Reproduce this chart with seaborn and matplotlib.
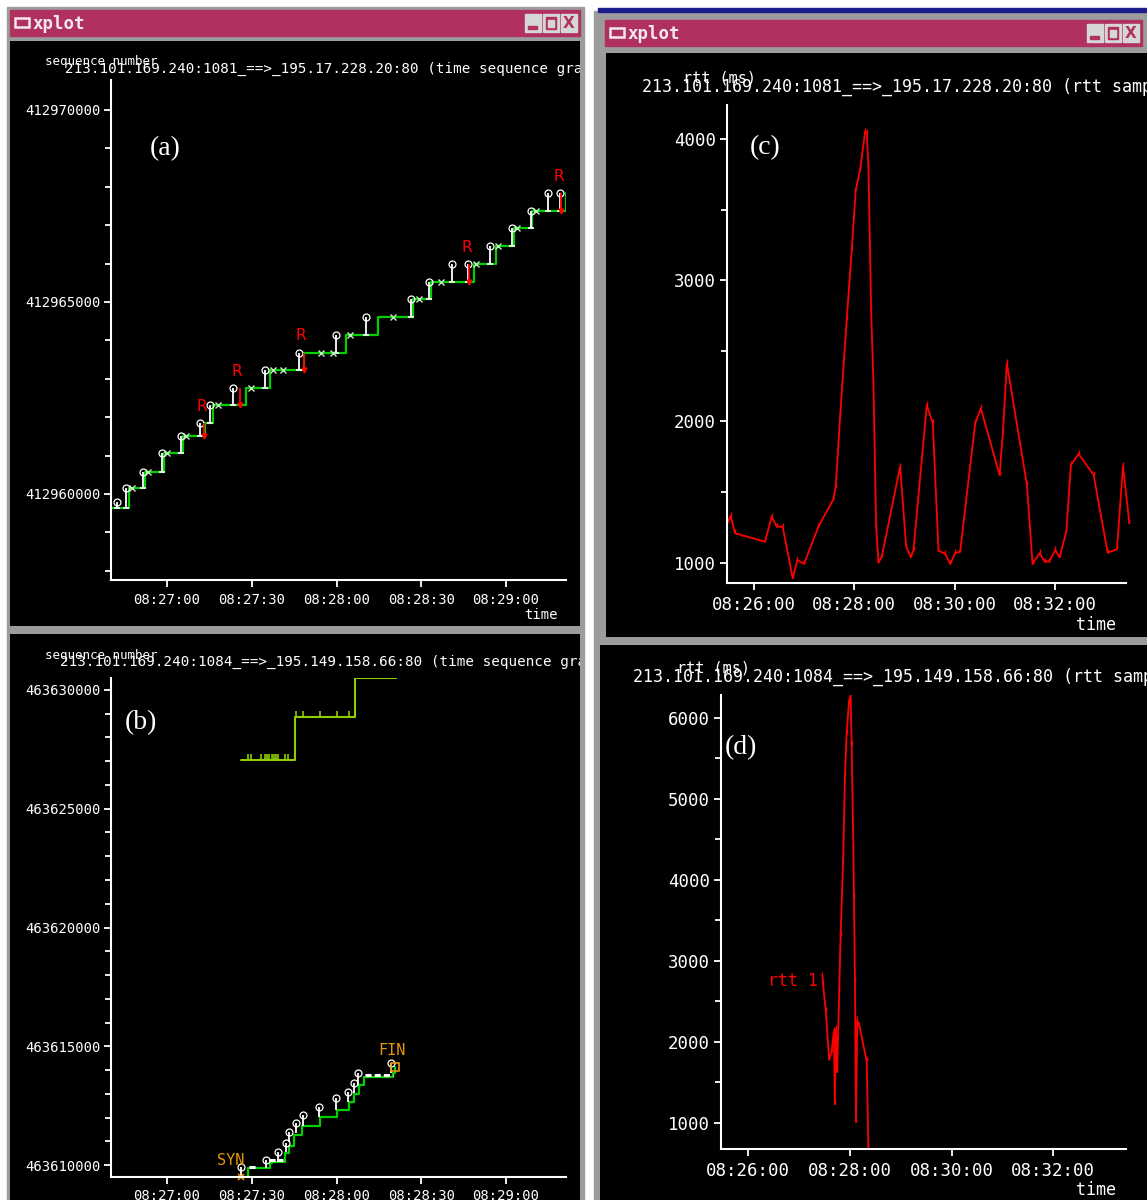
import numpy as np
import matplotlib
matplotlib.use("Agg")
import matplotlib.pyplot as plt
from matplotlib.patches import Rectangle
from matplotlib.ticker import FixedLocator, FuncFormatter
import seaborn as sns

W, H = 1147, 1200

# ---------------- data (times in seconds relative to a base clock time) ----------------
# (a) time sequence graph, connection ...:1081, base 08:27:00
A_BASE = 8 * 3600 + 27 * 60
A_ACK_T = [-19.5, -13.6, -7.8, -1.1, 5.5, 13.4, 16.4, 28.1, 36.4, 48.4, 63.4, 74.6,
           86.9, 93.6, 108.7, 116.4, 122.8, 129.3, 141.1, 141.9]
A_ACK_SEQ = [412959630, 412960150, 412960580, 412961060, 412961520, 412961840, 412962320,
             412962750, 412963230, 412963680, 412964140, 412964620, 412965070, 412965530,
             412965980, 412966460, 412966920, 412967370, 412967830, 412967830]
A_SEG_T = [-17.8, -14.5, -8.4, -1.7, 4.9, 11.7, 15.2, 23.4, 34.8, 46.7, 59.7, 70.5,
           86.4, 92.8, 100.8, 106.4, 114.4, 122.2, 128.7, 135.0, 139.1]
A_SEG_LO = [412959630, 412959630, 412960150, 412960580, 412961060, 412961520, 412961840,
            412962320, 412962750, 412963230, 412963680, 412964140, 412964620, 412965070,
            412965530, 412965530, 412965980, 412966460, 412966920, 412967370, 412967370]
A_SEG_HI = [412959800, 412960150, 412960580, 412961060, 412961520, 412961840, 412962320,
            412962750, 412963230, 412963680, 412964140, 412964620, 412965070, 412965530,
            412965980, 412965980, 412966460, 412966920, 412967370, 412967830, 412967830]
A_RTX_T = [13.2, 25.8, 48.5, 107.0, 139.5]
A_RTX_LO = [412961520, 412962320, 412963230, 412965530, 412967370]
A_RTX_HI = [412961840, 412962750, 412963680, 412965980, 412967830]
A_XMARK_T = [-12.5, -6.6, -0.1, 6.7, 18.1, 29.9, 37.5, 41.1, 54.6, 58.7, 64.6, 79.9,
             89.3, 96.9, 109.3, 117.3, 124.0, 130.5]

# (b) time sequence graph, connection ...:1084, base 08:27:00
B_BASE = 8 * 3600 + 27 * 60
B_WIN_T = [26.1, 45.2, 66.4, 81.2]
B_WIN_SEQ = [463627050, 463628860, 463630500, 463630500]
B_WIN_TICK_T = [28.7, 29.9, 33.4, 34.6, 35.5, 36.2, 37.0, 37.8, 38.6, 39.3, 41.9, 42.7,
                45.5, 48.1, 54.2, 60.2, 64.3, 67.5, 69.0, 70.5, 72.0, 73.5, 75.0, 76.5,
                78.0, 79.5, 80.8]
B_ACK_T = [26.35, 28.7, 36.35, 37.3, 41.65, 43.2, 44.95, 47.9, 54.0, 60.1, 64.35,
           66.35, 67.9, 69.65, 79.9, 80.6]
B_ACK_SEQ = [463609500, 463609860, 463610070, 463610140, 463610490, 463610800, 463611260,
             463611640, 463612010, 463612320, 463612670, 463612990, 463613370, 463613720,
             463613890, 463614140]
B_SEG_T = [26.35, 35.2, 39.3, 42.0, 43.2, 45.5, 48.1, 53.7, 59.8, 64.0, 66.1, 67.5, 79.3]
B_SEG_LO = [463609510, 463609860, 463610140, 463610560, 463610980, 463611330, 463611640,
            463612010, 463612320, 463612670, 463613020, 463613370, 463613860]
B_SEG_HI = [463609930, 463610210, 463610560, 463610910, 463611400, 463611750, 463612110,
            463612430, 463612810, 463613090, 463613440, 463613860, 463614280]
B_RUN_T0 = [28.9, 36.0, 69.9]
B_RUN_T1 = [31.6, 41.0, 79.9]
B_RUN_SEQ = [463609900, 463610200, 463613790]
B_SYN = (26.1, 463609500)
B_FIN = (80.6, 463614140)

# (c) rtt samples, connection ...:1081, base 08:26:00
C_BASE = 8 * 3600 + 26 * 60
C_T = [-31.9, -27.9, -22.7, 13.2, 21.2, 27.1, 34.3, 46.3, 51.9, 59.9, 77.0, 95.0, 97.8,
       103.0, 110.9, 116.9, 121.7, 126.9, 132.9, 134.9, 136.9, 140.1, 142.9, 146.1, 148.9,
       152.9, 174.8, 182.0, 187.6, 190.8, 206.7, 213.9, 220.7, 228.7, 234.7, 240.7, 246.6,
       264.6, 271.4, 293.7, 297.7, 302.5, 326.5, 333.2, 341.6, 347.6, 353.2, 360.4, 365.6,
       373.6, 379.1, 388.3, 406.3, 423.0, 434.2, 441.4, 449.0]
C_RTT = [1279, 1331, 1208, 1149, 1326, 1255, 1255, 889, 1019, 991, 1255, 1449, 1539, 2034,
         2719, 3214, 3639, 3781, 4052, 4040, 3804, 2789, 2270, 1255, 1000, 1043, 1680, 1114,
         1038, 1090, 2117, 1987, 1085, 1062, 991, 1067, 1078, 1987, 2093, 1621, 1916, 2412,
         1550, 991, 1067, 1008, 1008, 1090, 1038, 1220, 1692, 1770, 1621, 1071, 1095, 1685,
         1279]

# (d) rtt samples, connection ...:1084, base 08:26:00
D_BASE = 8 * 3600 + 26 * 60
D_T = [87.5, 88.3, 91.5, 95.4, 98.2, 101.0, 102.2, 103.4, 104.9, 107.3, 108.9, 112.1,
       114.1, 116.0, 118.8, 120.8, 122.0, 124.0, 124.7, 125.9, 127.1, 128.7, 131.1, 139.8,
       141.8]
D_RTT = [2817, 2707, 2376, 1781, 1869, 2133, 1230, 2155, 1626, 2618, 3302, 4294, 5286,
         5793, 6190, 6280, 5660, 4404, 3787, 2750, 1009, 2266, 2199, 1758, 680]

TITLE_A = "213.101.169.240:1081_==>_195.17.228.20:80 (time sequence graph)"
TITLE_B = "213.101.169.240:1084_==>_195.149.158.66:80 (time sequence graph)"
TITLE_C = "213.101.169.240:1081_==>_195.17.228.20:80 (rtt samples)"
TITLE_D = "213.101.169.240:1084_==>_195.149.158.66:80 (rtt samples)"

MAROON = "#b03060"
GRAY = "#9c9c9c"
GREEN = "#00d000"
YGREEN = "#8fcc00"
ORANGE = "#e8960c"
MONO = "DejaVu Sans Mono"

sns.set_theme(style="ticks")
plt.rcParams["font.family"] = [MONO, "DejaVu Sans"]

fig = plt.figure(figsize=(W / 100, H / 100), dpi=100, facecolor="white")


def fbox(x0, y0, x1, y1):
    return [x0 / W, 1 - y1 / H, (x1 - x0) / W, (y1 - y0) / H]


def rect(x0, y0, x1, y1, **kw):
    fig.add_artist(Rectangle((x0 / W, 1 - y1 / H), (x1 - x0) / W, (y1 - y0) / H,
                             transform=fig.transFigure, **kw))


def hms(v, _pos=None):
    v = int(round(v))
    return f"{v // 3600:02d}:{v % 3600 // 60:02d}:{v % 60:02d}"


def step_at(ts, levels, t):
    idx = np.searchsorted(ts, t, side="right") - 1
    return np.asarray(levels)[idx]


def titlebar(x0, y0, x1, y1):
    rect(x0, y0, x1, y1, color=MAROON, zorder=-0.5)
    rect(x0 + 5, y0 + 8, x0 + 19, y0 + 17, fill=False, ec="#f4e8ee", lw=1.8)
    fig.text((x0 + 23) / W, 1 - ((y0 + y1) / 2 + 1) / H, "xplot", color="#f4e8ee",
             fontsize=12.5, fontweight="bold", va="center", family=MONO)
    bw, gap = 16, 2
    for i in range(3):
        bx1 = x1 - 3 - i * (bw + gap)
        bx0 = bx1 - bw
        by0, by1 = y0 + 4, y1 - 4
        rect(bx0, by0, bx1, by1, color="#d6d6d6")
        if i == 0:
            fig.text((bx0 + bx1) / 2 / W, 1 - (by0 + by1) / 2 / H, "X", color=MAROON,
                     fontsize=11, fontweight="bold", ha="center", va="center",
                     family="DejaVu Sans")
        elif i == 1:
            rect(bx0 + 3, by0 + 3, bx1 - 3, by1 - 3, color=MAROON)
            rect(bx0 + 5, by0 + 6, bx1 - 5, by1 - 5, color="#d6d6d6")
        else:
            rect(bx0 + 3, by1 - 6, bx1 - 4, by1 - 3, color=MAROON)


def window(box):
    x0, y0, x1, y1 = box
    win = fig.add_axes(fbox(*box))
    win.set_facecolor("black")
    win.set_xticks([])
    win.set_yticks([])
    for s in win.spines.values():
        s.set_visible(False)
    win.set_xlim(x0, x1)
    win.set_ylim(y1, y0)
    return win


def wtext(win, x, y, s, **kw):
    t = win.text(x, y, s, color="white", clip_on=True, **kw)
    t.set_clip_box(win.bbox)
    return t


def style(ax, xlim, ylim, major_y, minor_y, major_x, fs, ypad, xpad):
    ax.set_facecolor("none")
    ax.set_xlim(*xlim)
    ax.set_ylim(*ylim)
    for s in ("top", "right"):
        ax.spines[s].set_visible(False)
    for s in ("left", "bottom"):
        ax.spines[s].set_color("white")
        ax.spines[s].set_linewidth(1.5)
    ax.yaxis.set_major_locator(FixedLocator(major_y))
    ax.yaxis.set_minor_locator(FixedLocator(minor_y))
    ax.xaxis.set_major_locator(FixedLocator(major_x))
    ax.xaxis.set_major_formatter(FuncFormatter(hms))
    ax.yaxis.set_major_formatter(FuncFormatter(lambda v, _p: f"{v:.0f}"))
    ax.tick_params(which="both", colors="white", direction="out", width=1.3,
                   labelsize=fs, labelcolor="white")
    ax.tick_params(which="major", length=5)
    ax.tick_params(which="minor", length=4)
    ax.tick_params(axis="y", pad=ypad)
    ax.tick_params(axis="x", pad=xpad)
    ax.set_xlabel("")
    ax.set_ylabel("")
    ax.grid(False)


# ---------------- window chrome ----------------
rect(7, 7, 584, 1200, color=GRAY, zorder=-1)
rect(594, 11, 1147, 1200, color=GRAY, zorder=-1)
rect(598, 8, 1147, 12, color="#1c1c8a", zorder=-1)
titlebar(10, 10, 580, 36)
titlebar(605, 20, 1142, 46)

# ---------------- (a) ----------------
win = window((10, 41, 580, 626))
wtext(win, 45, 62, "sequence number", fontsize=9, va="center")
wtext(win, 65, 69, TITLE_A, fontsize=10.3, va="center")
wtext(win, 165, 149, "(a)", fontsize=20, family="Liberation Serif", ha="center", va="center")
wtext(win, 541, 615, "time", fontsize=10, ha="center", va="center")

ax = fig.add_axes(fbox(111, 80, 566, 580))
sns.lineplot(x=A_BASE + np.array(A_ACK_T), y=A_ACK_SEQ, ax=ax, color=GREEN, lw=1.6,
             drawstyle="steps-post", estimator=None, sort=False, legend=False)
seg_t = A_BASE + np.array(A_SEG_T)
ax.vlines(seg_t, A_SEG_LO, A_SEG_HI, color="white", lw=1.3)
ax.plot(seg_t, A_SEG_HI, ls="none", marker="o", ms=5, mfc="none", mec="white", mew=0.9)
ax.plot(seg_t, A_SEG_LO, ls="none", marker="_", ms=5, color="white", mew=1.2)
xm = np.array(A_XMARK_T)
ax.plot(A_BASE + xm, step_at(A_ACK_T, A_ACK_SEQ, xm), ls="none", marker="x", ms=4,
        color="#c0f0c0", mew=1.0)
rtx_t = A_BASE + np.array(A_RTX_T)
ax.vlines(rtx_t, A_RTX_LO, A_RTX_HI, color="red", lw=1.3)
ax.plot(rtx_t, A_RTX_LO, ls="none", marker="v", ms=3.5, color="red")
for t, hi in zip(rtx_t, A_RTX_HI):
    ax.annotate("R", (t, hi), xytext=(-2, 12), textcoords="offset points", color="red",
                fontsize=11, ha="center", va="center", family="DejaVu Sans")
style(ax, (A_BASE - 19.8, A_BASE + 141.2), (412957760, 412970780),
      [412960000, 412965000, 412970000], np.arange(412958000, 412971000, 1000),
      A_BASE + np.arange(0, 121, 30), 10, 2.5, 4)

# ---------------- (b) ----------------
win = window((10, 634, 580, 1200))
wtext(win, 45, 655, "sequence number", fontsize=9, va="center")
wtext(win, 60, 662, TITLE_B, fontsize=10.3, va="center")
wtext(win, 141, 723, "(b)", fontsize=20, family="Liberation Serif", ha="center", va="center")

ax = fig.add_axes(fbox(111, 678, 566, 1177))
sns.lineplot(x=B_BASE + np.array(B_WIN_T), y=B_WIN_SEQ, ax=ax, color=YGREEN, lw=1.5,
             drawstyle="steps-post", estimator=None, sort=False, legend=False)
wt = np.array(B_WIN_TICK_T)
ax.plot(B_BASE + wt, step_at(B_WIN_T, B_WIN_SEQ, wt), ls="none", marker=2, ms=4,
        color=YGREEN, mew=1.2)
sns.lineplot(x=B_BASE + np.array(B_ACK_T), y=B_ACK_SEQ, ax=ax, color=GREEN, lw=1.6,
             drawstyle="steps-post", estimator=None, sort=False, legend=False)
seg_t = B_BASE + np.array(B_SEG_T)
ax.vlines(seg_t, B_SEG_LO, B_SEG_HI, color="white", lw=1.3)
ax.plot(seg_t, B_SEG_HI, ls="none", marker="o", ms=5, mfc="none", mec="white", mew=0.9)
ax.hlines(B_RUN_SEQ, B_BASE + np.array(B_RUN_T0), B_BASE + np.array(B_RUN_T1),
          color="white", lw=2.2, linestyles=(0, (2, 1)))
ax.plot(B_BASE + B_SYN[0], B_SYN[1], marker="x", ms=5, color=ORANGE, mew=1.2, clip_on=False)
ax.annotate("SYN", (B_BASE + B_SYN[0], B_SYN[1]), xytext=(-7, 12), textcoords="offset points",
            color=ORANGE, fontsize=11, ha="center", va="center", annotation_clip=False)
ax.plot(B_BASE + B_FIN[0], B_FIN[1], marker="s", ms=6, mfc="none", mec=ORANGE, mew=1.2)
ax.annotate("FIN", (B_BASE + B_FIN[0], B_FIN[1]), xytext=(-2, 12), textcoords="offset points",
            color=ORANGE, fontsize=11, ha="center", va="center")
style(ax, (B_BASE - 19.8, B_BASE + 141.2), (463609495, 463630505),
      np.arange(463610000, 463630001, 5000), np.arange(463610000, 463631000, 1000),
      B_BASE + np.arange(0, 121, 30), 10, 2.5, 4)

# ---------------- (c) ----------------
win = window((606, 53, 1147, 637))
wtext(win, 683, 78, "rtt (ms)", fontsize=11, va="center")
wtext(win, 642, 87, TITLE_C, fontsize=12, va="center")
wtext(win, 765, 148, "(c)", fontsize=20, family="Liberation Serif", ha="center", va="center")
wtext(win, 1096, 625, "time", fontsize=12, ha="center", va="center")

ax = fig.add_axes(fbox(727, 105, 1126, 583))
sns.lineplot(x=C_BASE + np.array(C_T), y=C_RTT, ax=ax, color="red", lw=1.3,
             estimator=None, sort=False, legend=False)
ax.lines[-1].set_clip_on(False)
ax.plot(C_BASE + np.array(C_T), C_RTT, ls="none", marker=2, ms=3, color="red", mew=1,
        clip_on=False)
style(ax, (C_BASE - 32.3, C_BASE + 445), (856, 4241),
      [1000, 2000, 3000, 4000], [1500, 2500, 3500],
      C_BASE + np.arange(0, 361, 120), 12.5, 3, 4)

# ---------------- (d) ----------------
win = window((600, 645, 1147, 1200))
wtext(win, 677, 668, "rtt (ms)", fontsize=11, va="center")
wtext(win, 633, 677, TITLE_D, fontsize=12, va="center")
wtext(win, 741, 748, "(d)", fontsize=20, family="Liberation Serif", ha="center", va="center")
wtext(win, 1096, 1190, "time", fontsize=12, ha="center", va="center")

ax = fig.add_axes(fbox(721, 695, 1126, 1149))
sns.lineplot(x=D_BASE + np.array(D_T), y=D_RTT, ax=ax, color="red", lw=1.3,
             estimator=None, sort=False, legend=False)
ax.plot(D_BASE + np.array(D_T), D_RTT, ls="none", marker=2, ms=3, color="red", mew=1)
ax.annotate("rtt 1", (D_BASE + D_T[0], D_RTT[0]), xytext=(-3, -4), textcoords="offset points",
            color="red", fontsize=12, ha="right", va="center")
style(ax, (D_BASE - 32.3, D_BASE + 446), (678, 6278),
      np.arange(1000, 6001, 1000), np.arange(1500, 6000, 1000),
      D_BASE + np.arange(0, 361, 120), 12.5, 3, 4)

fig.savefig("out.png", dpi=100, facecolor="white")
